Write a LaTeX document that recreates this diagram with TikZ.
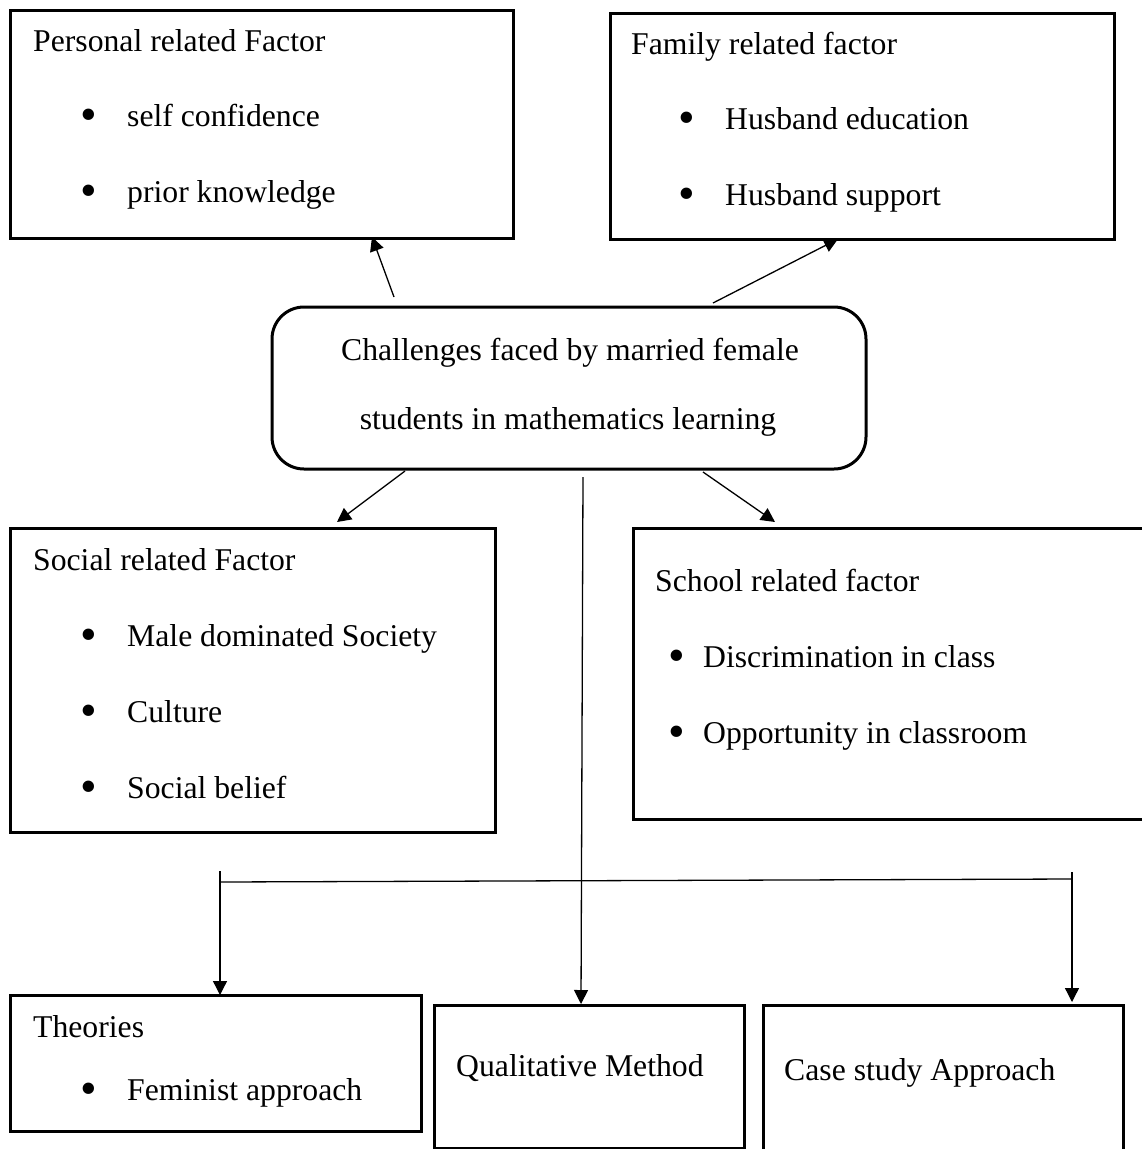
\documentclass[tikz,border=0pt]{standalone}
\usepackage{fontspec}
\setmainfont{Liberation Serif}
\usetikzlibrary{arrows.meta,calc}
\begin{document}
\begin{tikzpicture}[x=1pt,y=-1pt,
  box/.style={draw,line width=3pt,inner sep=0},
  txt/.style={anchor=base west,inner sep=0,font=\fontsize{31.7}{38}\selectfont},
  ctxt/.style={anchor=base,inner sep=0,font=\fontsize{31.7}{38}\selectfont},
  conn/.style={line width=1.3pt},
  arr/.style={conn,-{Triangle[length=14pt,width=14pt]}}]
\useasboundingbox (0,0) rectangle (1142,1149);
\fill[white] (0,0) rectangle (1142,1149);
\newcommand{\bigbul}{\raisebox{-4.5pt}{\scalebox{1.5}{•}}}
\newcommand{\bul}[1]{\makebox[44.5pt][l]{\hspace*{-2pt}\bigbul}#1}
% boxes
\draw[box] (10,10) rectangle (513,238);
\coordinate (P) at (10,10);
\draw[box] (610,13) rectangle (1114,239);
\coordinate (F) at (610,13);
\draw[box,rounded corners=32pt] (272,307) rectangle (866,469);
\coordinate (C) at (272,307);
\draw[box] (10,528) rectangle (495,832);
\coordinate (S) at (10,528);
\draw[box] (1160,528) -- (633,528) -- (633,819) -- (1160,819);
\coordinate (K) at (633,528);
\draw[box] (10,995) rectangle (421,1131);
\coordinate (T) at (10,995);
\draw[box] (434,1005) rectangle (744,1148);
\coordinate (Q) at (434,1005);
\draw[box] (763,1170) -- (763,1005) -- (1123,1005) -- (1123,1170);
\coordinate (A) at (763,1005);
% texts
\node[txt] (pt) at (33,51) {Personal related Factor};
\node[txt] (p1) at (82.5,126) {\bul{self confidence}};
\node[txt] (p2) at (82.5,202) {\bul{prior knowledge}};
\node[txt] (ft) at (631,54) {Family related factor};
\node[txt] (f1) at (680.5,129) {\bul{Husband education}};
\node[txt] (f2) at (680.5,205) {\bul{Husband support}};
\node[ctxt] (c1) at (570,360) {Challenges faced by married female};
\node[ctxt] (c2) at (568,429) {students in mathematics learning};
\node[txt] (st) at (33,570) {Social related Factor};
\node[txt] (s1) at (82.5,646) {\bul{Male dominated Society}};
\node[txt] (s2) at (82.5,722) {\bul{Culture}};
\node[txt] (s3) at (82.5,798) {\bul{Social belief}};
\node[txt] (kt) at (655,591) {School related factor};
\node[txt] (k1) at (670.5,667) {\makebox[32.5pt][l]{\hspace*{-2pt}\bigbul}Discrimination in class};
\node[txt] (k2) at (670.5,743) {\makebox[32.5pt][l]{\hspace*{-2pt}\bigbul}Opportunity in classroom};
\node[txt] (tt) at (33,1037) {Theories};
\node[txt] (t1) at (82.5,1100) {\bul{Feminist approach}};
\node[txt] (qt) at (456,1076) {Qualitative Method};
\node[txt] (at) at (784,1080) {Case study Approach};
% connectors
\coordinate (cp) at (394,297);
\coordinate (cf) at (713,303);
\coordinate (cs) at (405,471);
\coordinate (ck) at (703,472);
\coordinate (cm) at (583,477);
\coordinate (hl) at (220,882);
\coordinate (hr) at (1072,879);
\coordinate (vl) at (220,871);
\coordinate (vr) at (1072,872);
\draw[arr] (cp) -- ([xshift=362pt,yshift=1pt]P |- 0,238);
\draw[arr] (cf) -- (838,239);
\draw[arr] (cs) -- (337,522);
\draw[arr] (ck) -- (775,522);
\draw[arr] (cm) -- (581,1004);
\draw[conn] (hl) -- (hr);
\draw[arr] (vl) -- (220,995);
\draw[arr] (vr) -- (1072,1002);
\end{tikzpicture}
\end{document}
